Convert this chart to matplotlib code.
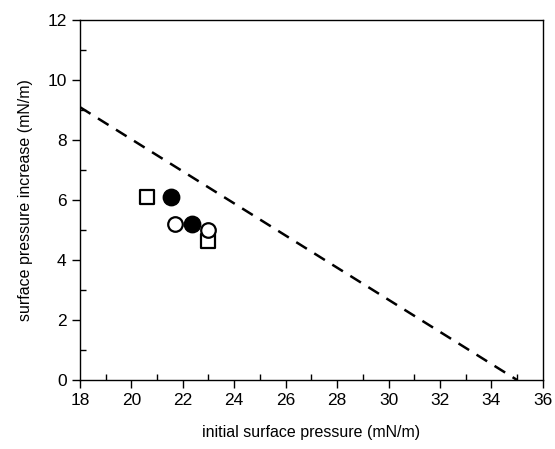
import matplotlib
matplotlib.use('Agg')
import matplotlib.pyplot as plt
from matplotlib.ticker import MultipleLocator

plt.rcParams['font.family'] = ['Liberation Sans', 'DejaVu Sans']

# ---------- data ----------
sq_x = [20.6, 23.0]
sq_y = [6.1, 4.65]
open_x = [21.7, 23.0]
open_y = [5.2, 5.0]
filled_x = [21.55, 22.35]
filled_y = [6.1, 5.2]
line_x = [18, 35]
line_y = [9.1, 0]

fig = plt.figure(figsize=(5.55, 4.49), dpi=100)
ax = fig.add_axes([0.144, 0.1537, 0.834, 0.8013])

ax.plot(line_x, line_y, color='black', linestyle=(0, (5, 3.5)), linewidth=1.8)
ax.scatter(sq_x, sq_y, marker='s', s=90, facecolors='white', edgecolors='black', linewidths=1.6, zorder=3)
ax.scatter(open_x, open_y, marker='o', s=110, facecolors='white', edgecolors='black', linewidths=1.6, zorder=3)
ax.scatter(filled_x, filled_y, marker='o', s=140, facecolors='black', edgecolors='black', zorder=4)

ax.set_xlim(18, 36)
ax.set_ylim(0, 12)
ax.xaxis.set_major_locator(MultipleLocator(2))
ax.xaxis.set_minor_locator(MultipleLocator(1))
ax.yaxis.set_major_locator(MultipleLocator(2))
ax.yaxis.set_minor_locator(MultipleLocator(1))
ax.tick_params(which='major', direction='out', length=6, width=1, labelsize=12.5)
ax.tick_params(which='minor', direction='in', length=4, width=1)
for s in ax.spines.values():
    s.set_linewidth(1)

ax.set_xlabel('initial surface pressure (mN/m)', fontsize=11.5, labelpad=12)
ax.set_ylabel('surface pressure increase (mN/m)', fontsize=11.5, labelpad=10)

fig.savefig('out.png', dpi=100)
